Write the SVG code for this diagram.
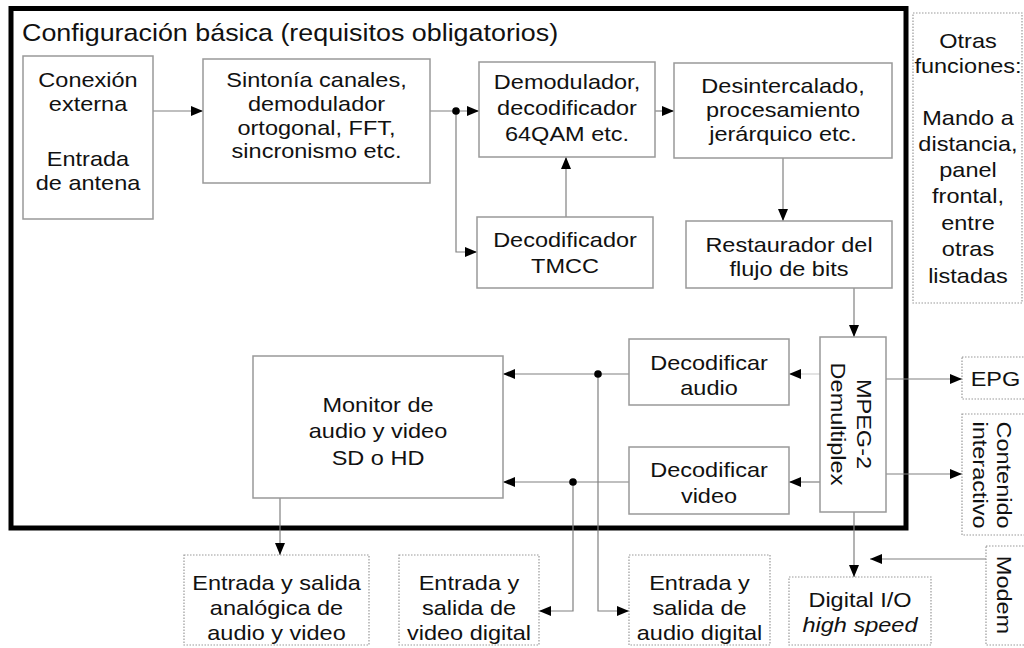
<svg xmlns="http://www.w3.org/2000/svg" width="1024" height="648" viewBox="0 0 1024 648">
<defs>
<style>
.t{font-family:"Liberation Sans",Arial,sans-serif;font-size:21px;fill:#111;text-anchor:middle}
.ti{font-family:"Liberation Sans",Arial,sans-serif;font-size:24px;fill:#111}
.b{fill:#fff;stroke:#999;stroke-width:1.5}
.d{fill:#fff;stroke:#999;stroke-width:1.2;stroke-dasharray:1.5 1.5}
.c{fill:none;stroke:#808080;stroke-width:1.2}
.cl{fill:none;stroke:#d0d0d0;stroke-width:1.2}
.dot{fill:#000}
</style>
<marker id="ah" markerUnits="userSpaceOnUse" markerWidth="12" markerHeight="10" refX="12" refY="5" orient="auto">
<path d="M0,0 L12,5 L0,10 z" fill="#000"/>
</marker>
</defs>
<rect width="1024" height="648" fill="#fff"/>

<g id="frame">
<rect x="11" y="8.5" width="895" height="519.5" fill="none" stroke="#000" stroke-width="5"/>
<text class="ti" transform="translate(22 0) scale(1.12 1)" y="41">Configuración básica (requisitos obligatorios)</text>
</g>

<g id="connectors">
<path class="c" d="M153,111 H203" marker-end="url(#ah)"/>
<path class="c" d="M430,111 H479" marker-end="url(#ah)"/>
<path class="c" d="M456,111 V252 H477" marker-end="url(#ah)"/>
<path class="c" d="M566,217 V157" marker-end="url(#ah)"/>
<path class="c" d="M655,111 H674" marker-end="url(#ah)"/>
<path class="c" d="M783,158 V221" marker-end="url(#ah)"/>
<path class="c" d="M854,288 V337" marker-end="url(#ah)"/>
<path class="cl" d="M820,374 H789" marker-end="url(#ah)"/>
<path class="c" d="M820,482 H789" marker-end="url(#ah)"/>
<path class="c" d="M629,374 H503" marker-end="url(#ah)"/>
<path class="c" d="M629,482 H503" marker-end="url(#ah)"/>
<path class="c" d="M886,379 H962" marker-end="url(#ah)"/>
<path class="c" d="M886,474 H962" marker-end="url(#ah)"/>
<path class="c" d="M854,512 V577" marker-end="url(#ah)"/>
<path class="c" d="M986,559 H870" marker-end="url(#ah)"/>
<path class="c" d="M280,498 V555" marker-end="url(#ah)"/>
<path class="c" d="M573,482 V611 H539" marker-end="url(#ah)"/>
<path class="c" d="M598,374 V611 H629" marker-end="url(#ah)"/>
<circle class="dot" cx="456" cy="111" r="3.8"/>
<circle class="dot" cx="598" cy="374" r="3.8"/>
<circle class="dot" cx="573" cy="482" r="3.8"/>
</g>

<g id="conexion">
<rect class="b" x="23" y="56" width="130" height="163"/>
<text class="t" transform="translate(88 0) scale(1.12 1)"><tspan x="0" y="87">Conexión</tspan><tspan x="0" y="111">externa</tspan><tspan x="0" y="166">Entrada</tspan><tspan x="0" y="190">de antena</tspan></text>
</g>

<g id="sintonia">
<rect class="b" x="203" y="59" width="227" height="124"/>
<text class="t" transform="translate(316.5 0) scale(1.12 1)"><tspan x="0" y="87">Sintonía canales,</tspan><tspan x="0" y="111">demodulador</tspan><tspan x="0" y="135">ortogonal, FFT,</tspan><tspan x="0" y="158">sincronismo etc.</tspan></text>
</g>

<g id="demodulador">
<rect class="b" x="479" y="62" width="176" height="95"/>
<text class="t" transform="translate(567 0) scale(1.12 1)"><tspan x="0" y="89">Demodulador,</tspan><tspan x="0" y="115">decodificador</tspan><tspan x="0" y="141">64QAM etc.</tspan></text>
</g>

<g id="tmcc">
<rect class="b" x="477" y="217" width="176" height="71"/>
<text class="t" transform="translate(565 0) scale(1.12 1)"><tspan x="0" y="247">Decodificador</tspan><tspan x="0" y="273">TMCC</tspan></text>
</g>

<g id="desintercalado">
<rect class="b" x="674" y="63" width="218" height="95"/>
<text class="t" transform="translate(783 0) scale(1.12 1)"><tspan x="0" y="93">Desintercalado,</tspan><tspan x="0" y="117">procesamiento</tspan><tspan x="0" y="141">jerárquico etc.</tspan></text>
</g>

<g id="restaurador">
<rect class="b" x="686" y="221" width="206" height="67"/>
<text class="t" transform="translate(789 0) scale(1.12 1)"><tspan x="0" y="252">Restaurador del</tspan><tspan x="0" y="276">flujo de bits</tspan></text>
</g>

<g id="demux">
<rect class="b" x="820" y="337" width="66" height="175"/>
<text class="t" transform="translate(857 424) rotate(90) scale(1.12 1)"><tspan x="0" y="0">MPEG-2</tspan><tspan x="0" y="26">Demultiplex</tspan></text>
</g>

<g id="dec-audio">
<rect class="b" x="629" y="339" width="160" height="66"/>
<text class="t" transform="translate(709 0) scale(1.12 1)"><tspan x="0" y="370">Decodificar</tspan><tspan x="0" y="395">audio</tspan></text>
</g>

<g id="dec-video">
<rect class="b" x="629" y="447" width="160" height="67"/>
<text class="t" transform="translate(709 0) scale(1.12 1)"><tspan x="0" y="477">Decodificar</tspan><tspan x="0" y="503">video</tspan></text>
</g>

<g id="monitor">
<rect class="b" x="253" y="356" width="250" height="142"/>
<text class="t" transform="translate(378 0) scale(1.12 1)"><tspan x="0" y="412">Monitor de</tspan><tspan x="0" y="438.5">audio y video</tspan><tspan x="0" y="465">SD o HD</tspan></text>
</g>

<g id="otras">
<rect class="d" x="913" y="13" width="109" height="290"/>
<text class="t" transform="translate(968 0) scale(1.12 1)"><tspan x="0" y="48">Otras</tspan><tspan x="0" y="73">funciones:</tspan><tspan x="0" y="125">Mando a</tspan><tspan x="0" y="151">distancia,</tspan><tspan x="0" y="177">panel</tspan><tspan x="0" y="203">frontal,</tspan><tspan x="0" y="230">entre</tspan><tspan x="0" y="256">otras</tspan><tspan x="0" y="283">listadas</tspan></text>
</g>

<g id="epg">
<rect class="d" x="962" y="357" width="70" height="42"/>
<text class="t" transform="translate(995.5 0) scale(1.12 1)"><tspan x="0" y="386">EPG</tspan></text>
</g>

<g id="contenido">
<rect class="d" x="962" y="414" width="70" height="121"/>
<text class="t" transform="translate(997 475) rotate(90) scale(1.12 1)"><tspan x="0" y="0">Contenido</tspan><tspan x="0" y="24">interactivo</tspan></text>
</g>

<g id="modem">
<rect class="d" x="986" y="546" width="46" height="99"/>
<text class="t" transform="translate(997 595) rotate(90) scale(1.12 1)"><tspan x="0" y="0">Modem</tspan></text>
</g>

<g id="analogica">
<rect class="d" x="184" y="555" width="185" height="90"/>
<text class="t" transform="translate(276.5 0) scale(1.12 1)"><tspan x="0" y="590">Entrada y salida</tspan><tspan x="0" y="615">analógica de</tspan><tspan x="0" y="640">audio y video</tspan></text>
</g>

<g id="video-digital">
<rect class="d" x="399" y="555" width="140" height="90"/>
<text class="t" transform="translate(469 0) scale(1.12 1)"><tspan x="0" y="590">Entrada y</tspan><tspan x="0" y="615">salida de</tspan><tspan x="0" y="640">video digital</tspan></text>
</g>

<g id="audio-digital">
<rect class="d" x="629" y="555" width="141" height="90"/>
<text class="t" transform="translate(699.5 0) scale(1.12 1)"><tspan x="0" y="590">Entrada y</tspan><tspan x="0" y="615">salida de</tspan><tspan x="0" y="640">audio digital</tspan></text>
</g>

<g id="digital-io">
<rect class="d" x="789" y="577" width="142" height="68"/>
<text class="t" transform="translate(860 0) scale(1.12 1)"><tspan x="0" y="607">Digital I/O</tspan><tspan x="0" y="632" font-style="italic">high speed</tspan></text>
</g>
</svg>
